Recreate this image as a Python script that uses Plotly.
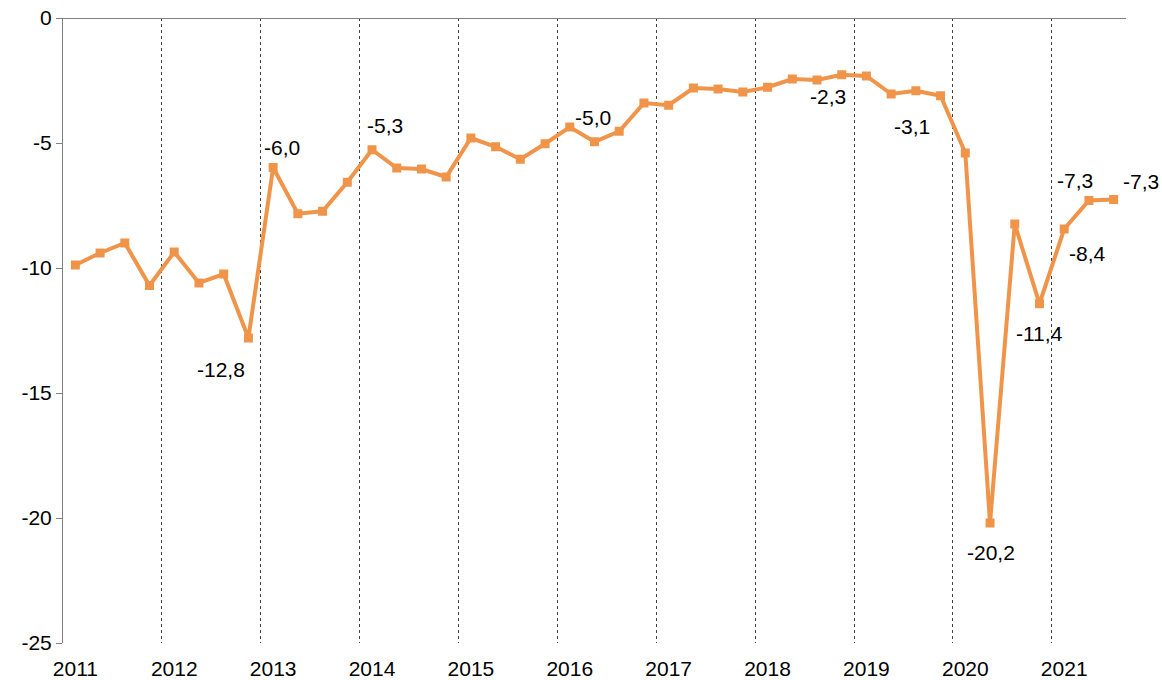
import plotly.graph_objects as go

# Quarterly data, 2011Q1 .. 2021Q3
years = [str(y) for y in range(2011, 2022)]
values = [
    -9.88, -9.40, -9.00, -10.70,   # 2011
    -9.36, -10.60, -10.24, -12.80,  # 2012
    -5.98, -7.83, -7.73, -6.57,     # 2013
    -5.27, -6.00, -6.04, -6.36,     # 2014
    -4.80, -5.15, -5.65, -5.03,     # 2015
    -4.36, -4.95, -4.53, -3.40,     # 2016
    -3.49, -2.80, -2.84, -2.96,     # 2017
    -2.77, -2.44, -2.48, -2.27,     # 2018
    -2.32, -3.04, -2.91, -3.11,     # 2019
    -5.40, -20.20, -8.24, -11.43,   # 2020
    -8.44, -7.30, -7.26,            # 2021
]
labelled = [7, 8, 12, 21, 31, 35, 37, 39, 40, 41, 42]
# pixel offsets of the value labels (style)
label_shift = {
    7: (-27, -31), 8: (9, 20), 12: (13, 24), 21: (-2, 24), 31: (-14, -22),
    35: (-29, -31), 37: (1, -29), 39: (0, -30), 40: (23, -24), 41: (-14, 20),
    42: (27, 18),
}

x = list(range(len(values)))
orange = "#F0944A"
font = "Liberation Sans, Arial, sans-serif"
fsize = 21

fig = go.Figure()
fig.add_trace(go.Scatter(
    x=x, y=values, mode="lines+markers",
    line=dict(color=orange, width=4),
    marker=dict(symbol="square", size=9, color=orange),
    hoverinfo="skip", showlegend=False, cliponaxis=False,
))

for i in labelled:
    dx, dy = label_shift[i]
    fig.add_annotation(
        x=x[i], y=values[i], text=f"{values[i]:.1f}".replace(".", ","),
        showarrow=False, xshift=dx, yshift=dy,
        font=dict(family=font, size=fsize, color="#000000"),
    )

fig.update_layout(
    width=1162, height=680,
    margin=dict(l=63, r=36, t=18, b=37, autoexpand=False),
    plot_bgcolor="white", paper_bgcolor="white",
    font=dict(family=font, size=fsize, color="#000000"),
    showlegend=False,
)
fig.update_xaxes(
    range=[-0.5, len(values) - 0.5],
    tickmode="array",
    tickvals=[4 * k for k in range(len(years))],
    ticktext=years,
    ticks="", showgrid=False, zeroline=False, showline=False,
    ticklabelstandoff=11, automargin=False,
    minor=dict(tickmode="linear", tick0=3.5, dtick=4, showgrid=True,
               gridcolor="#404040", griddash="dot", gridwidth=1, ticks=""),
)
yt = [0, -5, -10, -15, -20, -25]
fig.update_yaxes(
    range=[-25, 0], automargin=False,
    tickmode="array", tickvals=yt, ticktext=[str(v) for v in yt],
    ticks="outside", ticklen=6, tickcolor="#808080", tickwidth=1,
    showline=True, linecolor="#808080", linewidth=1,
    showgrid=False,
    zeroline=True, zerolinecolor="#808080", zerolinewidth=1,
)

fig.write_html("out.html", config={"displayModeBar": False},
               post_script="document.body.style.margin='0';")
